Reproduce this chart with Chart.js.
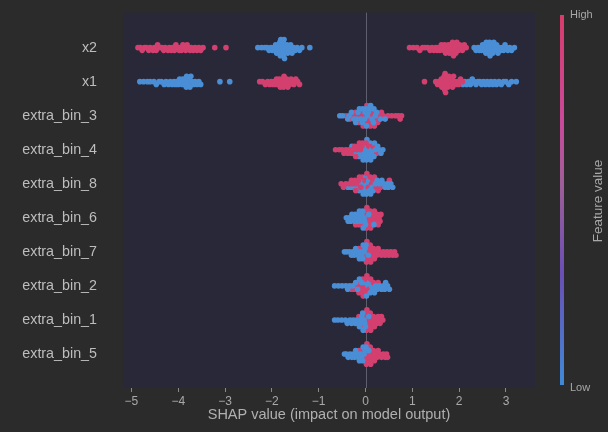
<!DOCTYPE html>
<html>
<head>
<meta charset="utf-8">
<script src="https://cdn.jsdelivr.net/npm/chart.js@4.4.1/dist/chart.umd.min.js"></script>
<style>
  html, body { margin: 0; padding: 0; background: #2b2b2b; }
  #wrap { width: 608px; height: 432px; }
</style>
</head>
<body>
<div id="wrap"><canvas id="shapChart" width="608" height="432"></canvas></div>
<script>
// feature rows, top to bottom
const features = ['x2', 'x1', 'extra_bin_3', 'extra_bin_4', 'extra_bin_8',
  'extra_bin_6', 'extra_bin_7', 'extra_bin_2', 'extra_bin_1', 'extra_bin_5'];
const xTicks = [-5, -4, -3, -2, -1, 0, 1, 2, 3];

// SHAP values, split by feature value (high = pink, low = blue)
const x2High = [-4.86, -4.81, -4.77, -4.72, -4.68, -4.63, -4.6, -4.54, -4.51, -4.47, -4.44, -4.39, -4.35,
  -4.31, -4.28, -4.22, -4.19, -4.15, -4.12, -4.08, -4.05, -4.02, -3.98, -3.96, -3.93, -3.9, -3.87, -3.84,
  -3.81, -3.78, -3.75, -3.72, -3.68, -3.64, -3.6, -3.56, -3.52, -3.47, -3.22, -2.98,
  0.94, 1.02, 1.1, 1.16, 1.22, 1.27, 1.33, 1.38, 1.42, 1.46, 1.5, 1.53, 1.56, 1.59, 1.62, 1.64, 1.67,
  1.69, 1.71, 1.73, 1.75, 1.77, 1.79, 1.8, 1.82, 1.83, 1.85, 1.86, 1.88, 1.89, 1.9, 1.92, 1.93, 1.95,
  1.97, 1.99, 2.01, 2.04, 2.07, 2.11, 2.15];
const x2Low = [-2.3, -2.22, -2.15, -2.1, -2.06, -2.02, -1.99, -1.96, -1.94, -1.92, -1.9, -1.88, -1.86,
  -1.85, -1.84, -1.83, -1.82, -1.81, -1.8, -1.79, -1.78, -1.77, -1.76, -1.75, -1.74, -1.73, -1.71, -1.7,
  -1.68, -1.66, -1.64, -1.62, -1.6, -1.57, -1.54, -1.5, -1.46, -1.41, -1.36, -1.19,
  2.32, 2.36, 2.4, 2.43, 2.46, 2.48, 2.5, 2.52, 2.54, 2.55, 2.57, 2.58, 2.6, 2.61, 2.62, 2.63, 2.65,
  2.66, 2.68, 2.69, 2.71, 2.72, 2.74, 2.76, 2.78, 2.8, 2.83, 2.86, 2.89, 2.92, 2.95, 2.98, 3.01, 3.04,
  3.08, 3.12, 3.18];
const x1High = [-2.26, -2.2, -2.14, -2.09, -2.05, -2.01, -1.98, -1.95, -1.92, -1.9, -1.88, -1.86, -1.84,
  -1.82, -1.8, -1.78, -1.77, -1.75, -1.74, -1.72, -1.7, -1.68, -1.66, -1.64, -1.62, -1.59, -1.56, -1.53,
  -1.49, -1.45, -1.41,
  1.26, 1.5, 1.54, 1.57, 1.6, 1.62, 1.63, 1.64, 1.65, 1.66, 1.67, 1.68, 1.69, 1.7, 1.71, 1.72, 1.73,
  1.74, 1.76, 1.78, 1.8, 1.82, 1.84, 1.86, 1.88, 1.9, 1.93, 1.96, 1.99, 2.03, 2.07];
const x1Low = [-4.82, -4.74, -4.66, -4.6, -4.52, -4.47, -4.41, -4.36, -4.3, -4.26, -4.21, -4.17, -4.13,
  -4.09, -4.06, -4.03, -4.0, -3.97, -3.94, -3.92, -3.9, -3.88, -3.86, -3.85, -3.83, -3.82, -3.8, -3.79,
  -3.77, -3.75, -3.73, -3.7, -3.67, -3.64, -3.6, -3.56, -3.52, -3.11, -2.9,
  2.08, 2.12, 2.16, 2.2, 2.24, 2.28, 2.32, 2.36, 2.4, 2.44, 2.48, 2.52, 2.56, 2.6, 2.64, 2.68, 2.72,
  2.76, 2.8, 2.85, 2.9, 2.95, 3.0, 3.06, 3.12, 3.22];
const bin3High = [-0.42, -0.33, -0.27, -0.22, -0.19, -0.15, -0.11, -0.08, -0.05, -0.03, 0.0, 0.03, 0.05,
  0.08, 0.1, 0.13, 0.16, 0.19, 0.22, 0.26, 0.3, 0.34, 0.38, 0.48, 0.56, 0.64, 0.7, 0.74, 0.77];
const bin3Low = [-0.55, -0.49, -0.38, -0.35, -0.3, -0.25, -0.21, -0.18, -0.16, -0.13, -0.1, -0.07, -0.06,
  -0.02, -0.01, 0.01, 0.02, 0.04, 0.06, 0.09, 0.11, 0.14, 0.17, 0.18, 0.21, 0.24, 0.32, 0.42];
const bin4High = [-0.64, -0.56, -0.5, -0.46, -0.42, -0.38, -0.35, -0.31, -0.27, -0.23, -0.21, -0.19,
  -0.15, -0.13, -0.11, -0.08, -0.06, 0.01, 0.07, 0.16, 0.24];
const bin4Low = [-0.29, -0.25, -0.17, -0.14, -0.1, -0.07, -0.05, -0.03, -0.02, -0.01, 0.0, 0.02, 0.03,
  0.04, 0.06, 0.08, 0.1, 0.11, 0.13, 0.15, 0.18, 0.19, 0.21, 0.26, 0.29, 0.33, 0.37];
const bin8High = [-0.52, -0.47, -0.42, -0.34, -0.3, -0.27, -0.23, -0.21, -0.19, -0.15, -0.13, -0.1,
  -0.06, -0.01, 0.03, 0.06, 0.1, 0.13, 0.16, 0.19, 0.23, 0.27, 0.32, 0.51];
const bin8Low = [-0.38, -0.32, -0.25, -0.17, -0.14, -0.11, -0.08, -0.07, -0.05, -0.03, -0.02, 0.0, 0.01,
  0.02, 0.05, 0.07, 0.09, 0.11, 0.14, 0.17, 0.21, 0.25, 0.3, 0.35, 0.38, 0.42, 0.46, 0.49, 0.54, 0.58];
const bin6High = [-0.21, -0.14, -0.07, -0.01, 0.01, 0.02, 0.03, 0.04, 0.06, 0.08, 0.1, 0.11, 0.13, 0.15,
  0.16, 0.19, 0.21, 0.23, 0.25, 0.27, 0.29, 0.31, 0.33];
const bin6Low = [-0.41, -0.37, -0.35, -0.32, -0.29, -0.27, -0.24, -0.22, -0.19, -0.17, -0.15, -0.13,
  -0.11, -0.1, -0.08, -0.06, -0.05, -0.03, -0.02, 0.0, 0.07, 0.18];
const bin7High = [-0.14, -0.07, -0.02, 0.0, 0.02, 0.03, 0.04, 0.07, 0.09, 0.1, 0.11, 0.13, 0.15, 0.17,
  0.19, 0.21, 0.24, 0.27, 0.3, 0.34, 0.38, 0.42, 0.46, 0.5, 0.54, 0.58, 0.62, 0.65];
const bin7Low = [-0.45, -0.4, -0.34, -0.3, -0.27, -0.24, -0.21, -0.19, -0.16, -0.13, -0.11, -0.09, -0.06,
  -0.05, -0.03, -0.01, 0.01, 0.06];
const bin2High = [-0.3, -0.24, -0.19, -0.16, -0.14, -0.11, -0.1, -0.07, -0.06, -0.05, -0.03, -0.02, 0.0,
  0.01, 0.03, 0.07, 0.11, 0.17, 0.27];
const bin2Low = [-0.66, -0.58, -0.5, -0.42, -0.38, -0.34, -0.27, -0.21, -0.17, -0.13, -0.08, -0.01, 0.02,
  0.05, 0.08, 0.1, 0.13, 0.15, 0.19, 0.22, 0.25, 0.3, 0.34, 0.38, 0.41, 0.43, 0.47, 0.51];
const bin1High = [-0.14, -0.07, -0.01, 0.01, 0.02, 0.03, 0.04, 0.06, 0.09, 0.1, 0.11, 0.13, 0.15, 0.17,
  0.19, 0.22, 0.24, 0.27, 0.29, 0.31, 0.34, 0.37];
const bin1Low = [-0.66, -0.59, -0.51, -0.43, -0.39, -0.33, -0.3, -0.26, -0.22, -0.19, -0.16, -0.13,
  -0.11, -0.1, -0.08, -0.06, -0.05, -0.03, -0.02, 0.0, 0.07];
const bin5High = [-0.14, -0.07, -0.02, 0.0, 0.02, 0.03, 0.04, 0.06, 0.09, 0.1, 0.11, 0.13, 0.15, 0.17,
  0.19, 0.22, 0.25, 0.27, 0.3, 0.34, 0.38, 0.42, 0.45, 0.47];
const bin5Low = [-0.45, -0.41, -0.37, -0.33, -0.29, -0.26, -0.23, -0.21, -0.19, -0.16, -0.13, -0.11,
  -0.09, -0.06, -0.05, -0.03, -0.01, 0.01, 0.07];

const highByRow = [x2High, x1High, bin3High, bin4High, bin8High, bin6High, bin7High, bin2High, bin1High, bin5High];
const lowByRow = [x2Low, x1Low, bin3Low, bin4Low, bin8Low, bin6Low, bin7Low, bin2Low, bin1Low, bin5Low];

const PINK = '#d3406f';
const BLUE = '#4a8ed6';
const BIN = 0.08;

// beeswarm stacking like shap: bin by x, alternate up/down inside a bin
function swarmRow(hi, lo, row) {
  const pts = [];
  const n = Math.max(hi.length, lo.length);
  for (let i = 0; i < n; i++) {
    if (i < hi.length) pts.push({ x: hi[i], c: PINK });
    if (i < lo.length) pts.push({ x: lo[i], c: BLUE });
  }
  const sorted = pts.slice().sort((a, b) => a.x - b.x);
  let lastBin = null, layer = 0;
  sorted.forEach(p => {
    const b = Math.round(p.x / BIN);
    if (b !== lastBin) layer = 0;
    p.k = Math.ceil(layer / 2) * ((layer % 2) * 2 - 1);
    layer++;
    lastBin = b;
  });
  const m = Math.max(...sorted.map(p => Math.abs(p.k))) + 1;
  return pts.map(p => ({ x: p.x, y: row + p.k * 0.4 / m, c: p.c }));
}

let points = [];
features.forEach((f, i) => { points = points.concat(swarmRow(highByRow[i], lowByRow[i], i)); });

const bgPlugin = {
  id: 'bg',
  beforeDraw(chart) {
    const { ctx, chartArea: a, scales } = chart;
    ctx.save();
    ctx.fillStyle = '#282839';
    ctx.fillRect(a.left, a.top, a.right - a.left, a.bottom - a.top);
    const x0 = Math.round(scales.x.getPixelForValue(0)) + 0.5;
    ctx.strokeStyle = '#5e5e6c';
    ctx.lineWidth = 1;
    ctx.beginPath();
    ctx.moveTo(x0, a.top);
    ctx.lineTo(x0, a.bottom);
    ctx.stroke();
    ctx.restore();
  },
  afterDraw(chart) {
    const { ctx } = chart;
    const top = 15, bottom = 385, left = 560, w = 4;
    ctx.save();
    const g = ctx.createLinearGradient(0, bottom, 0, top);
    g.addColorStop(0, '#3f8ad8');
    g.addColorStop(0.3, '#6a4fb5');
    g.addColorStop(0.55, '#a05e98');
    g.addColorStop(0.7, '#c94a9c');
    g.addColorStop(1, '#d83c6c');
    ctx.fillStyle = g;
    ctx.fillRect(left, top, w, bottom - top);
    ctx.fillStyle = '#a8a8a8';
    ctx.font = '11px "Liberation Sans"';
    ctx.textBaseline = 'middle';
    ctx.textAlign = 'left';
    ctx.fillText('High', 570, 15);
    ctx.fillText('Low', 570, 388);
    ctx.translate(598, 201);
    ctx.rotate(-Math.PI / 2);
    ctx.textAlign = 'center';
    ctx.font = '13.5px "Liberation Sans"';
    ctx.fillText('Feature value', 0, 0);
    ctx.restore();
  }
};

new Chart(document.getElementById('shapChart'), {
  type: 'scatter',
  data: {
    datasets: [{
      data: points.map(p => ({ x: p.x, y: p.y })),
      backgroundColor: points.map(p => p.c),
      borderWidth: 0,
      pointRadius: 2.8,
      pointHoverRadius: 2.8
    }]
  },
  options: {
    responsive: false,
    animation: false,
    layout: { padding: { top: 12, right: 73, bottom: 0, left: 0 } },
    plugins: { legend: { display: false }, tooltip: { enabled: false } },
    scales: {
      x: {
        type: 'linear',
        min: -5.18,
        max: 3.62,
        afterBuildTicks: s => { s.ticks = xTicks.map(v => ({ value: v })); },
        afterFit: s => { s.height = 44; },
        grid: { drawOnChartArea: false, drawTicks: true, tickLength: 4, color: '#8a8a8a' },
        border: { display: false },
        ticks: {
          color: '#a9a9a9',
          font: { size: 12, family: 'Liberation Sans' },
          padding: 2,
          callback: v => (v < 0 ? '\u2212' + Math.abs(v) : String(v))
        },
        title: {
          display: true,
          text: 'SHAP value (impact on model output)',
          color: '#b0b0b0',
          font: { size: 14.5, family: 'Liberation Sans' },
          padding: { top: 0, bottom: 8 }
        }
      },
      y: {
        type: 'linear',
        reverse: true,
        min: -1.03,
        max: 10.0,
        afterBuildTicks: s => { s.ticks = features.map((f, i) => ({ value: i })); },
        afterFit: s => { s.width = 123; },
        grid: { drawOnChartArea: false, drawTicks: true, tickLength: 22, color: 'rgba(0,0,0,0)' },
        border: { display: false },
        ticks: {
          color: '#bdbdbd',
          font: { size: 14.3, family: 'Liberation Sans' },
          padding: 4,
          callback: v => features[v]
        }
      }
    }
  },
  plugins: [bgPlugin]
});
</script>
</body>
</html>
